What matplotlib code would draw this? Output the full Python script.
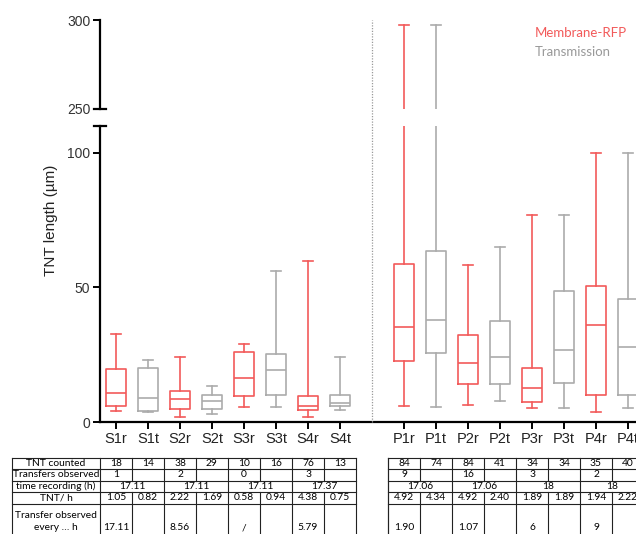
import matplotlib
matplotlib.use('Agg')
import matplotlib.pyplot as plt
from matplotlib import transforms
from matplotlib.lines import Line2D

plt.rcParams['font.family'] = ['Liberation Sans', 'DejaVu Sans']

# ---- data ----
categories = ['S1r', 'S1t', 'S2r', 'S2t', 'S3r', 'S3t', 'S4r', 'S4t',
              'P1r', 'P1t', 'P2r', 'P2t', 'P3r', 'P3t', 'P4r', 'P4t']
whis_low = [4.1, 3.6, 2.0, 3.0, 5.6, 5.6, 2.0, 4.3,
            5.9, 5.6, 6.4, 7.9, 5.2, 5.2, 3.6, 5.2]
q1 = [5.9, 4.1, 4.7, 4.7, 9.8, 10.2, 4.3, 6.0,
      22.8, 25.6, 14.2, 14.0, 7.5, 14.6, 9.9, 9.9]
median = [10.6, 9.1, 8.4, 7.9, 16.5, 19.3, 5.9, 7.0,
          35.4, 37.9, 22.0, 24.1, 12.5, 26.8, 36.2, 27.8]
q3 = [19.6, 19.9, 11.5, 10.2, 25.9, 25.2, 9.8, 10.2,
      58.8, 63.5, 32.2, 37.4, 20.0, 48.5, 50.4, 45.7]
whis_high = [32.8, 23.0, 24.0, 13.3, 29.1, 56.3, 60.0, 24.0,
             297, 297, 58.4, 64.9, 76.8, 76.8, 100, 100]

row_labels = ['TNT counted', 'Transfers observed', 'time recording (h)', 'TNT/ h',
              'Transfer observed\nevery \u2026 h']
tnt_counted = ['18', '14', '38', '29', '10', '16', '76', '13',
               '84', '74', '84', '41', '34', '34', '35', '40']
transfers = ['1', '', '2', '', '0', '', '3', '',
             '9', '', '16', '', '3', '', '2', '']
time_recording = ['17.11', '17.11', '17.11', '17.37', '17.06', '17.06', '18', '18']
tnt_per_h = ['1.05', '0.82', '2.22', '1.69', '0.58', '0.94', '4.38', '0.75',
             '4.92', '4.34', '4.92', '2.40', '1.89', '1.89', '1.94', '2.22']
every_h = ['17.11', '', '8.56', '', '/', '', '5.79', '',
           '1.90', '', '1.07', '', '6', '', '9', '']

red = '#f25a5a'
grey = '#ababab'

W, H = 636, 534
fig = plt.figure(figsize=(W / 100, H / 100), dpi=100)


def box(x0, y0, x1, y1):  # pixel box, origin top-left
    return [x0 / W, 1 - y1 / H, (x1 - x0) / W, (y1 - y0) / H]


ax_hi = fig.add_axes(box(100, 20, 636, 109))
ax_lo = fig.add_axes(box(100, 126, 636, 422))

# S group at 0..7, gap at 8, P group at 9..16
positions = [i + (1 if i >= 8 else 0) for i in range(len(categories))]
colors = [red if c.endswith('r') else grey for c in categories]

for ax in (ax_hi, ax_lo):
    for i, pos in enumerate(positions):
        st = dict(med=median[i], q1=q1[i], q3=q3[i],
                  whislo=whis_low[i], whishi=whis_high[i], fliers=[])
        lp = dict(color=colors[i], linewidth=1.2)
        ax.bxp([st], positions=[pos], widths=0.64, capwidths=0.32,
               showfliers=False, manage_ticks=False,
               boxprops=lp, medianprops=lp, whiskerprops=lp, capprops=lp)
    ax.set_xlim(-0.5, 16.25)
    for s in ['top', 'right']:
        ax.spines[s].set_visible(False)
    ax.spines['left'].set_linewidth(1.6)
    ax.tick_params(axis='y', length=5, width=1.4, labelsize=10,
                   labelcolor='#333333', pad=2)

ax_hi.set_ylim(250, 300)
ax_hi.set_yticks([250, 300])
ax_hi.spines['bottom'].set_visible(False)
ax_hi.tick_params(axis='x', bottom=False, labelbottom=False)

ax_lo.set_ylim(0, 110)
ax_lo.set_yticks([0, 50, 100])
ax_lo.spines['bottom'].set_linewidth(1.6)
ax_lo.set_xticks(positions)
ax_lo.set_xticklabels(categories)
ax_lo.tick_params(axis='x', length=5, width=1.4, labelsize=10.5,
                  labelcolor='#222222', pad=2)

# break marks
d = 6 / 536
ax_hi.plot([-d, d], [0, 0], transform=ax_hi.transAxes, color='k', lw=1.6, clip_on=False)
ax_lo.plot([-d, d], [1, 1], transform=ax_lo.transAxes, color='k', lw=1.6, clip_on=False)

# dotted separator between groups
trans = transforms.blended_transform_factory(ax_lo.transData, fig.transFigure)
fig.add_artist(Line2D([8, 8], [1 - 422 / H, 1 - 20 / H], transform=trans,
                      color='#9a9a9a', lw=0.9, ls=(0, (1, 1.2))))

fig.text(51 / W, 1 - 220 / H, 'TNT length (\u00b5m)', rotation=90,
         ha='center', va='center', fontsize=11, color='#222222')

fig.text(535 / W, 1 - 33 / H, 'Membrane-RFP', color=red, fontsize=9.5,
         va='center', family=['Lato', 'DejaVu Sans'])
fig.text(535 / W, 1 - 52 / H, 'Transmission', color='#999999', fontsize=9.5,
         va='center', family=['Lato', 'DejaVu Sans'])

# ---- tables ----
ax_t = fig.add_axes(box(100, 458, 636, 534))
ax_t.set_xlim(-0.5, 16.25)
ax_t.set_ylim(76, 0)
ax_t.axis('off')

rows_y = [0, 11, 22.5, 34, 46, 84]
tk = dict(color='#222222', lw=0.8, clip_on=False)
tf = dict(fontsize=7.4, color='black', family=['Lato', 'DejaVu Sans'],
          ha='center', va='center', clip_on=False)

for g in (0, 1):
    cols = positions[g * 8:(g + 1) * 8]
    x_left = cols[0] - 0.5
    x_right = cols[-1] + 0.5
    if g == 0:
        x_left = -3.25
    for y in rows_y[:-1]:
        ax_t.plot([x_left, x_right], [y, y], **tk)
    ax_t.plot([x_left, x_left], [0, rows_y[-1]], **tk)
    for k, c in enumerate(cols):
        b = c + 0.5
        if k % 2 == 0:
            ax_t.plot([b, b], [0, rows_y[2]], **tk)
            ax_t.plot([b, b], [rows_y[3], rows_y[-1]], **tk)
        else:
            ax_t.plot([b, b], [0, rows_y[-1]], **tk)
    ax_t.plot([cols[0] - 0.5, cols[0] - 0.5], [0, rows_y[-1]], **tk)

# row labels
lx = (-3.25 - 0.5) / 2
for j, lab in enumerate(row_labels[:4]):
    ax_t.text(lx, (rows_y[j] + rows_y[j + 1]) / 2, lab, **tf)
ax_t.text(lx, 57, 'Transfer observed', **tf)
ax_t.text(lx, 70, 'every \u2026 h', **tf)

for i, pos in enumerate(positions):
    ax_t.text(pos, 5.5, tnt_counted[i], **tf)
    ax_t.text(pos, 16.75, transfers[i], **tf)
    ax_t.text(pos, 40, tnt_per_h[i], **tf)
    ax_t.text(pos, 70, every_h[i], **tf)
for k, val in enumerate(time_recording):
    x = (positions[2 * k] + positions[2 * k + 1]) / 2
    ax_t.text(x, 28.25, val, **tf)

fig.savefig('out.png', dpi=100)
